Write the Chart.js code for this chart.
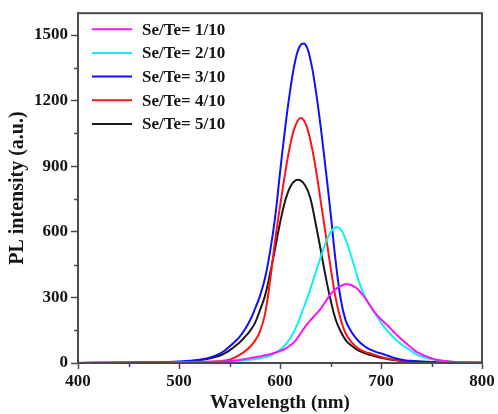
<!DOCTYPE html>
<html>
<head>
<meta charset="utf-8">
<script src="https://cdn.jsdelivr.net/npm/chart.js@4.4.1/dist/chart.umd.min.js"></script>
<style>
  html, body { margin: 0; padding: 0; background: #ffffff; }
  #wrap { width: 498px; height: 414px; position: relative; }
</style>
</head>
<body>
<div id="wrap"><canvas id="pl"></canvas></div>
<script>
// Emission wavelength grid (nm)
const wavelengths = [400, 420, 440, 460, 480, 500, 510, 520, 530,
  540, 545, 550, 555, 560, 565, 570, 575, 580, 585, 590, 595, 600, 605, 610, 615, 620, 625, 630, 635, 640,
  645, 650, 655, 660, 665, 670, 675, 680, 685, 690, 695, 700, 705, 710, 715, 720, 725, 730, 735, 740,
  745, 750, 755, 760, 770, 780, 790, 800];

// PL intensity (a.u.) for each Se/Te ratio
const seTe1_10 = [0, 1, 1, 2, 2, 3, 4, 5, 6,
  7, 8, 9, 11, 14, 18, 22, 26, 30, 35, 40, 47, 55, 65, 80, 100, 133, 166, 195, 220, 246,
  280, 314, 337, 352, 360, 358, 345, 322, 292, 258, 225, 200, 178, 155, 132, 110, 90, 70, 52, 40,
  30, 22, 15, 11, 6, 4, 3, 2];
const seTe2_10 = [0, 0, 1, 1, 1, 2, 2, 3, 4,
  5, 5, 6, 8, 10, 12, 15, 18, 21, 26, 33, 45, 60, 82, 112, 155, 210, 272, 338, 410, 480,
  548, 597, 621, 612, 565, 495, 420, 348, 295, 255, 220, 185, 155, 128, 105, 86, 70, 55, 40, 30,
  23, 18, 13, 10, 6, 4, 3, 2];
const seTe3_10 = [0, 1, 2, 3, 4, 7, 10, 15, 24,
  42, 56, 75, 96, 120, 152, 192, 245, 305, 385, 505, 660, 870, 1070, 1245, 1380, 1452, 1458, 1390, 1260, 1090,
  895, 690, 470, 295, 195, 148, 115, 90, 73, 60, 51, 44, 36, 28, 21, 16, 12, 10, 8, 7,
  6, 5, 4, 4, 3, 2, 1, 1];
const seTe4_10 = [0, 0, 1, 1, 2, 2, 3, 3, 5,
  8, 11, 15, 25, 37, 52, 72, 100, 142, 220, 370, 555, 715, 865, 995, 1082, 1120, 1098, 1020, 900, 750,
  595, 440, 300, 200, 135, 100, 76, 60, 50, 43, 35, 28, 22, 18, 14, 11, 9, 7, 6, 5,
  4, 4, 3, 3, 2, 1, 1, 1];
const seTe5_10 = [0, 1, 1, 2, 3, 5, 8, 13, 20,
  33, 44, 58, 75, 94, 118, 145, 181, 240, 305, 405, 520, 640, 740, 805, 834, 836, 812, 755, 645, 525,
  400, 290, 200, 145, 105, 82, 65, 52, 43, 36, 30, 24, 19, 15, 12, 10, 8, 7, 6, 5,
  4, 4, 3, 3, 2, 1, 1, 1];

const seriesLabels = ['Se/Te= 1/10', 'Se/Te= 2/10', 'Se/Te= 3/10', 'Se/Te= 4/10', 'Se/Te= 5/10'];
const seriesValues = [seTe1_10, seTe2_10, seTe3_10, seTe4_10, seTe5_10];
const seriesColors = ['#ff10ff', '#10f0f0', '#1010ff', '#ff1414', '#1a1a1a'];

// Axis ticks
const xMajorTicks = [400, 500, 600, 700, 800];
const xMinorTicks = [450, 550, 650, 750];
const yMajorTicks = [0, 300, 600, 900, 1200, 1500];
const yMinorTicks = [150, 450, 750, 1050, 1350];

const serif = "'Liberation Serif', 'Times New Roman', serif";
const axisGray = '#4a4a4a';

const boxAndLegend = {
  id: 'boxAndLegend',
  afterDatasetsDraw(chart) {
    const { ctx, chartArea: a, scales: { x, y } } = chart;
    ctx.save();
    // minor tick marks, outside the frame
    ctx.strokeStyle = axisGray;
    ctx.lineWidth = 1.5;
    ctx.beginPath();
    xMinorTicks.forEach(v => {
      const px = Math.round(x.getPixelForValue(v)) + 0.5;
      ctx.moveTo(px, a.bottom);
      ctx.lineTo(px, a.bottom + 4);
    });
    yMinorTicks.forEach(v => {
      const py = Math.round(y.getPixelForValue(v)) + 0.5;
      ctx.moveTo(a.left, py);
      ctx.lineTo(a.left - 4, py);
    });
    ctx.stroke();
    // frame
    ctx.lineWidth = 2;
    ctx.strokeRect(a.left, a.top, a.right - a.left, a.bottom - a.top);
    // legend, stacked in the upper left corner
    ctx.font = 'bold 17px ' + serif;
    ctx.textBaseline = 'middle';
    ctx.textAlign = 'left';
    chart.data.datasets.forEach((ds, i) => {
      const cy = a.top + 16 + i * 23.7;
      ctx.strokeStyle = ds.borderColor;
      ctx.lineWidth = 2;
      ctx.beginPath();
      ctx.moveTo(a.left + 14, cy);
      ctx.lineTo(a.left + 54, cy);
      ctx.stroke();
      ctx.fillStyle = '#151515';
      ctx.fillText(ds.label, a.left + 64, cy + 1);
    });
    ctx.restore();
  }
};

new Chart(document.getElementById('pl'), {
  type: 'line',
  data: {
    datasets: seriesLabels.map((label, k) => ({
      label,
      data: wavelengths.map((w, i) => ({ x: w, y: seriesValues[k][i] })),
      borderColor: seriesColors[k],
      borderWidth: 2,
      pointRadius: 0,
      fill: false,
      tension: 0.4
    }))
  },
  options: {
    responsive: true,
    maintainAspectRatio: false,
    animation: false,
    events: [],
    layout: { padding: { top: 13, right: 16, left: 0, bottom: 0 } },
    plugins: { legend: { display: false }, tooltip: { enabled: false } },
    scales: {
      x: {
        type: 'linear',
        min: 400, max: 800,
        afterBuildTicks: s => { s.ticks = xMajorTicks.map(v => ({ value: v })); },
        afterFit: s => { s.height = 51; },
        ticks: { color: '#151515', padding: 2, callback: v => String(v),
                 font: { family: serif, size: 17, weight: 'bold' } },
        grid: { drawOnChartArea: false, drawTicks: true, tickLength: 6, tickColor: axisGray, tickWidth: 1.5 },
        border: { display: true, color: axisGray, width: 2 },
        title: { display: true, text: 'Wavelength (nm)', color: '#151515', padding: { top: 0, bottom: 0 },
                 font: { family: serif, size: 19, weight: 'bold' } }
      },
      y: {
        type: 'linear',
        min: 0, max: 1600,
        afterBuildTicks: s => { s.ticks = yMajorTicks.map(v => ({ value: v })); },
        afterFit: s => { s.width = 78; },
        ticks: { color: '#151515', padding: 3, callback: v => String(v),
                 font: { family: serif, size: 17, weight: 'bold' } },
        grid: { drawOnChartArea: false, drawTicks: true, tickLength: 7, tickColor: axisGray, tickWidth: 1.5 },
        border: { display: true, color: axisGray, width: 2 },
        title: { display: true, text: 'PL intensity (a.u.)', color: '#151515', padding: { top: 6, bottom: 0 },
                 font: { family: serif, size: 20, weight: 'bold' } }
      }
    }
  },
  plugins: [boxAndLegend]
});
</script>
</body>
</html>
